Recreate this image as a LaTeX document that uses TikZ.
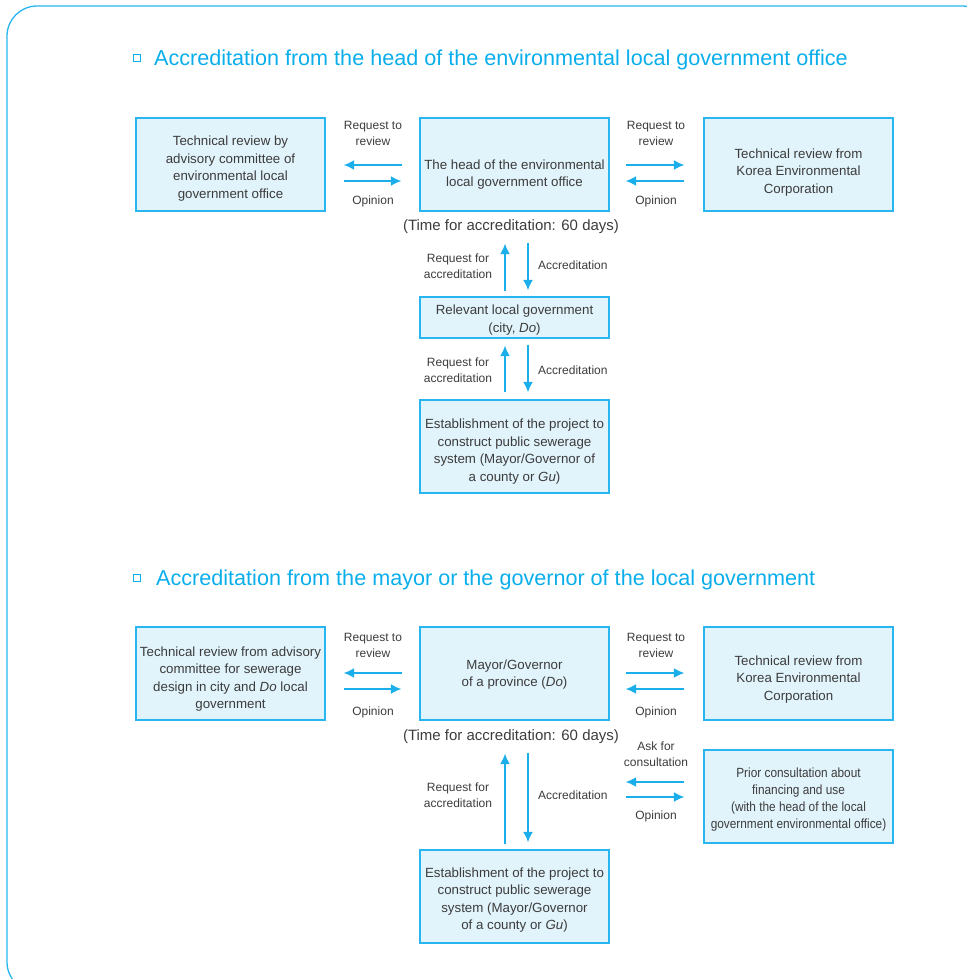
\documentclass[tikz,border=0pt]{standalone}
\usepackage{fontspec}
\setmainfont{Liberation Sans}
\newfontfamily\narrowsans{Liberation Sans}[FakeStretch=0.89]
\usetikzlibrary{arrows.meta}

\definecolor{skyline}{HTML}{29B6F0}
\definecolor{titleblue}{HTML}{0AAEEB}
\definecolor{boxfill}{HTML}{E1F3FB}
\definecolor{inkgray}{HTML}{3C3C3C}
\definecolor{arrowblue}{HTML}{1AAFEA}

\tikzset{
  panel/.style={draw=skyline, line width=1.3pt, rounded corners=30pt},
  bulletbox/.style={draw=titleblue, line width=0.9pt, minimum size=7pt, inner sep=0pt},
  heading/.style={anchor=west, text=titleblue, font=\fontsize{21.6}{26}\selectfont, inner sep=0pt},
  stagebox/.style={draw=skyline, fill=boxfill, line width=1.2pt, minimum width=189pt,
    minimum height=93pt, inner sep=0pt},
  boxtext/.style={align=center, text=inkgray, font=\fontsize{13.3}{17.6}\selectfont, inner sep=0pt},
  flowlabel/.style={align=center, text=inkgray, font=\fontsize{12}{16}\selectfont, inner sep=0pt},
  timelabel/.style={text=inkgray, font=\fontsize{15}{18}\selectfont, inner sep=0pt},
  flow/.style={draw=arrowblue, line width=1.8pt, -{Latex[length=10.5pt,width=10pt]}},
}

\begin{document}
\begin{tikzpicture}[x=1pt,y=-1pt]
\useasboundingbox (0,0) rectangle (966,979);

% outer panel (runs past the right and bottom edges)
\draw[panel] (7,6) rectangle (992,992);

% ---------- first procedure ----------
\node[bulletbox] (bul1) at (136.5,58) {};
\node[heading] (head1) at (154,60) {Accreditation from the head of the environmental local government office};

\node[stagebox] (A1) at (230.5,164.5) {};
\node[boxtext] (A1t) at ([yshift=-4pt]A1.center) {Technical review by\\advisory committee of\\environmental local\\government office};
\node[stagebox] (C1) at (514.5,164.5) {};
\node[boxtext] (C1t) at ([yshift=-10pt]C1.center) {The head of the environmental\\local government office};
\node[stagebox] (B1) at (798.5,164.5) {};
\node[boxtext] (B1t) at ([yshift=-8pt]B1.center) {Technical review from\\Korea Environmental\\Corporation};
\node[timelabel] (T1) at (511,227) {(Time for accreditation: 60 days)};
\node[stagebox, minimum height=41pt] (D1) at (514.5,317.5) {};
\node[boxtext] (D1t) at ([yshift=-2.5pt]D1.center) {Relevant local government\\(city, \textit{Do})};
\node[stagebox] (E1) at (514.5,446.5) {};
\node[boxtext] (E1t) at ([yshift=-5pt]E1.center) {Establishment of the project to\\construct public sewerage\\system (Mayor/Governor of\\a county or \textit{Gu})};

\node[flowlabel] (L1a) at (373,133) {Request to\\review};
\node[flowlabel] (L1b) at (373,201) {Opinion};
\node[flowlabel] (L1c) at (656,133) {Request to\\review};
\node[flowlabel] (L1d) at (656,201) {Opinion};
\node[flowlabel] (L1e) at (458,266) {Request for\\accreditation};
\node[flowlabel, anchor=west] (L1f) at (538,265) {Accreditation};
\node[flowlabel] (L1g) at (458,370) {Request for\\accreditation};
\node[flowlabel, anchor=west] (L1h) at (538,370) {Accreditation};

\draw[flow, shorten <=17pt, shorten >=18pt] ([yshift=-0.5pt]C1.west) -- ([yshift=-0.5pt]A1.east);
\draw[flow, shorten <=18pt, shorten >=18pt] ([yshift=-16.5pt]A1.east) -- ([yshift=-16.5pt]C1.west);
\draw[flow, shorten <=16pt, shorten >=19pt] ([yshift=-0.5pt]C1.east) -- ([yshift=-0.5pt]B1.west);
\draw[flow, shorten <=19pt, shorten >=16pt] ([yshift=-16.5pt]B1.west) -- ([yshift=-16.5pt]C1.east);

\draw[flow, shorten <=5pt, shorten >=32pt] ([xshift=-9.5pt]D1.north) -- ([xshift=-9.5pt]C1.south);
\draw[flow, shorten <=31pt, shorten >=6pt] ([xshift=13.5pt]C1.south) -- ([xshift=13.5pt]D1.north);
\draw[flow, shorten <=7pt, shorten >=7pt] ([xshift=-9.5pt]E1.north) -- ([xshift=-9.5pt]D1.south);
\draw[flow, shorten <=6pt, shorten >=7pt] ([xshift=13.5pt]D1.south) -- ([xshift=13.5pt]E1.north);

% ---------- second procedure ----------
\node[bulletbox] (bul2) at (137,578) {};
\node[heading] (head2) at (156,580) {Accreditation from the mayor or the governor of the local government};

\node[stagebox] (A2) at (230.5,673.5) {};
\node[boxtext] (A2t) at ([yshift=-5.5pt]A2.center) {Technical review from advisory\\committee for sewerage\\design in city and \textit{Do} local\\government};
\node[stagebox] (C2) at (514.5,673.5) {};
\node[boxtext] (C2t) at ([yshift=-1pt]C2.center) {Mayor/Governor\\of a province (\textit{Do})};
\node[stagebox] (B2) at (798.5,673.5) {};
\node[boxtext] (B2t) at ([yshift=-6pt]B2.center) {Technical review from\\Korea Environmental\\Corporation};
\node[timelabel] (T2) at (511,737) {(Time for accreditation: 60 days)};
\node[stagebox] (F2) at (798.5,796.5) {};
\node[boxtext, font=\narrowsans\fontsize{13.3}{17}\selectfont] (F2t) at ([yshift=-3pt]F2.center) {Prior consultation about\\financing and use\\(with the head of the local\\government environmental office)};
\node[stagebox] (E2) at (514.5,896.5) {};
\node[boxtext] (E2t) at ([yshift=-3.5pt]E2.center) {Establishment of the project to\\construct public sewerage\\system (Mayor/Governor\\of a county or \textit{Gu})};
\coordinate (C2side) at (C2.east |- F2.west);

\node[flowlabel] (L2a) at (373,645) {Request to\\review};
\node[flowlabel] (L2b) at (373,712) {Opinion};
\node[flowlabel] (L2c) at (656,645) {Request to\\review};
\node[flowlabel] (L2d) at (656,712) {Opinion};
\node[flowlabel] (L2e) at (656,754) {Ask for\\consultation};
\node[flowlabel] (L2f) at (656,816) {Opinion};
\node[flowlabel] (L2g) at (458,795) {Request for\\accreditation};
\node[flowlabel, anchor=west] (L2h) at (538,795) {Accreditation};

\draw[flow, shorten <=17pt, shorten >=18pt] ([yshift=0.5pt]C2.west) -- ([yshift=0.5pt]A2.east);
\draw[flow, shorten <=18pt, shorten >=18pt] ([yshift=-15.5pt]A2.east) -- ([yshift=-15.5pt]C2.west);
\draw[flow, shorten <=16pt, shorten >=19pt] ([yshift=0.5pt]C2.east) -- ([yshift=0.5pt]B2.west);
\draw[flow, shorten <=19pt, shorten >=16pt] ([yshift=-15.5pt]B2.west) -- ([yshift=-15.5pt]C2.east);
\draw[flow, shorten <=19pt, shorten >=16pt] ([yshift=14.5pt]F2.west) -- ([yshift=14.5pt]C2side);
\draw[flow, shorten <=16pt, shorten >=19pt] ([yshift=-0.5pt]C2side) -- ([yshift=-0.5pt]F2.west);

\draw[flow, shorten <=5pt, shorten >=33pt] ([xshift=-9.5pt]E2.north) -- ([xshift=-9.5pt]C2.south);
\draw[flow, shorten <=32pt, shorten >=7pt] ([xshift=13.5pt]C2.south) -- ([xshift=13.5pt]E2.north);
\end{tikzpicture}
\end{document}
